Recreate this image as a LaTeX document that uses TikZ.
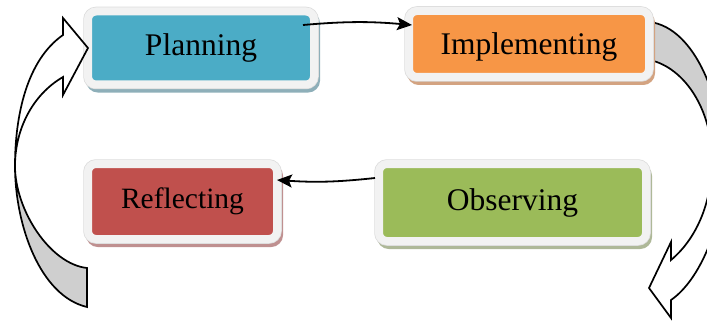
\documentclass[tikz,border=0pt]{standalone}
\usepackage{fontspec}
\setmainfont{Liberation Serif}
\usetikzlibrary{arrows.meta,positioning}

\definecolor{planblue}{HTML}{4BACC6}
\definecolor{planshade}{HTML}{8EAFB9}
\definecolor{implorange}{HTML}{F79646}
\definecolor{implshade}{HTML}{D3A381}
\definecolor{reflred}{HTML}{C0504D}
\definecolor{reflshade}{HTML}{BF9090}
\definecolor{obsgreen}{HTML}{9BBB59}
\definecolor{obsshade}{HTML}{AEB898}
\definecolor{framegray}{HTML}{F2F2F2}
\definecolor{frameline}{HTML}{DCDCDC}
\definecolor{curlgray}{HTML}{CFCFCF}

\begin{document}
\begin{tikzpicture}[x=1pt, y=-1pt, >=Stealth,
  stage/.style 2 args={rectangle, rounded corners=8pt, line width=8pt,
    outer sep=0pt, inner sep=0pt, draw=framegray, fill=#1,
    font=\fontsize{31.5}{36}\selectfont,
    preaction={fill=#2, draw=#2, transform canvas={xshift=2pt,yshift=-4pt}},
    preaction={draw=frameline, line width=9.5pt}},
  link/.style={-{Stealth[length=15pt,width=13pt,inset=3pt]}, line width=1.8pt},
  curl/.style={draw=black, line width=1.7pt, line join=miter}]

\clip (0,0) rectangle (707,321);

% curved arrow on the right, tail tucked behind Implementing
\fill[curlgray] (650,22) .. controls (695,28) and (724,100) .. (724,170)
  -- (712,160) .. controls (712,110) and (685,68) .. (650,60) -- cycle;
\draw[curl] (650,22) -- (650,60)
  .. controls (685,68) and (712,110) .. (712,160)
  .. controls (712,205) and (695,240) .. (671,260)
  -- (671,242) -- (649,288) -- (671,318) -- (671,300)
  .. controls (700,280) and (723,225) .. (724,170)
  .. controls (724,100) and (695,28) .. (650,22) -- cycle;

% the four stages
\node[stage={planblue}{planshade}, minimum width=226pt, minimum height=73pt] (plan) at (201,48) {Planning};
\node[stage={implorange}{implshade}, minimum width=240pt, minimum height=66pt, text depth=0pt] (impl) at (529,44) {Implementing};
\node[stage={obsgreen}{obsshade}, minimum width=267pt, minimum height=77pt] (obs) at (512.5,202.5) {Observing};
\node[stage={reflred}{reflshade}, minimum width=189pt, minimum height=75pt, font=\fontsize{29.5}{34}\selectfont] (refl) at (182.5,201.5) {Reflecting};

\draw[link] ([xshift=-11pt,yshift=23pt]plan.east) to[bend left=5] ([xshift=3pt,yshift=19pt]impl.west);
\draw[link] ([xshift=-4pt,yshift=24.5pt]obs.west) to[bend left=5] ([yshift=21.5pt]refl.east);

% curved arrow on the left, back half shaded
\fill[curlgray] (15,166) .. controls (15,225) and (40,296) .. (87,307)
  -- (87,268) .. controls (50,264) and (15,210) .. (15,166);
\draw[curl] (87,268) -- (87,307)
  .. controls (40,296) and (15,225) .. (15,166)
  .. controls (15,115) and (27,60) .. (63,35)
  -- (63,18) -- (88,48) -- (63,95) -- (63,77)
  .. controls (32,95) and (15,130) .. (15,166)
  .. controls (15,210) and (50,264) .. (87,268) -- cycle;
\end{tikzpicture}
\end{document}
